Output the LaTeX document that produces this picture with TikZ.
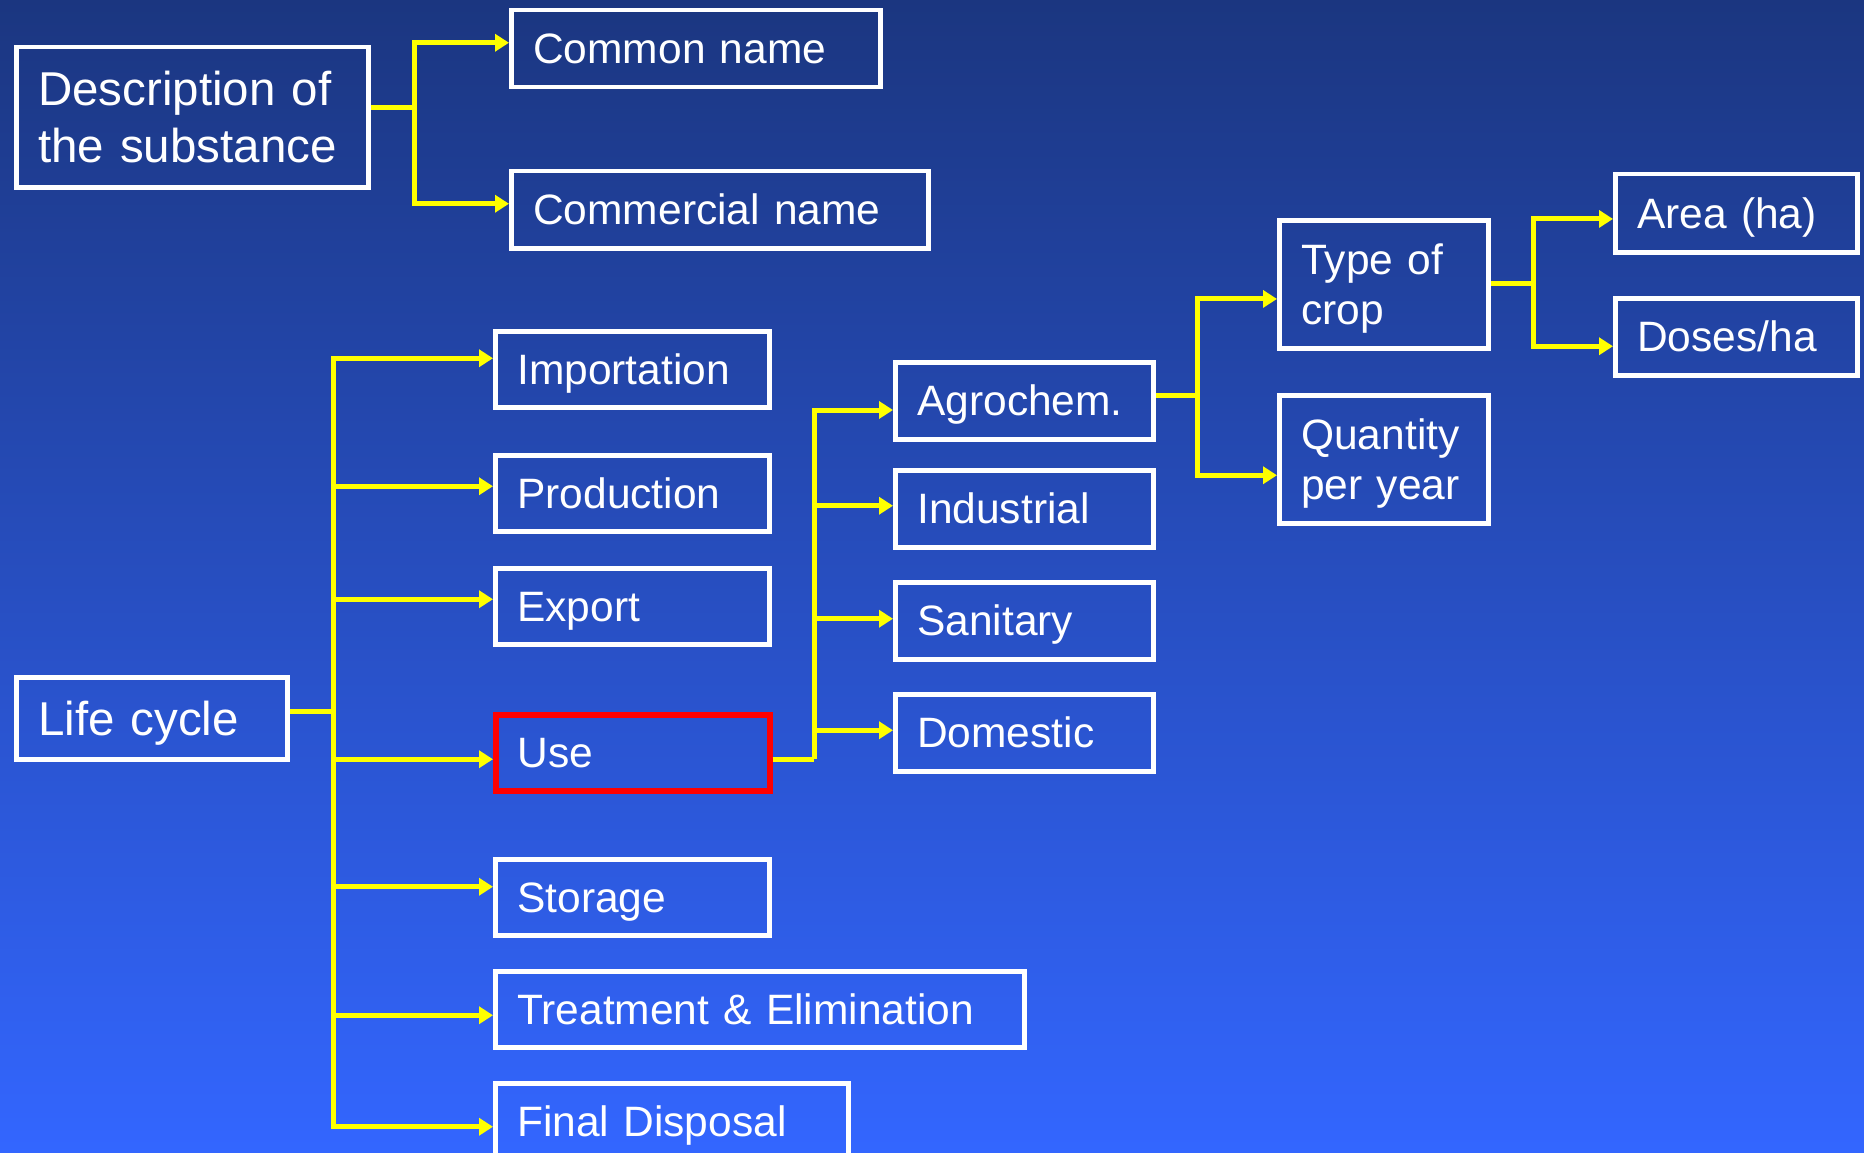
\documentclass[tikz,border=0pt]{standalone}
\usepackage{fontspec}
\setmainfont{Liberation Sans}
\usetikzlibrary{arrows.meta}
\definecolor{bgtop}{RGB}{27,54,128}
\definecolor{bgmid}{RGB}{42,85,208}
\definecolor{bgbot}{RGB}{51,102,255}
\definecolor{conny}{RGB}{255,255,0}
\definecolor{usered}{RGB}{255,0,0}
\tikzset{
  box/.style={draw=white, line width=4.5pt, anchor=north west, inner xsep=22pt, inner ysep=0pt,
    align=left, text=white, font=\fontsize{42.5}{50}\selectfont, text height=30.4pt, text depth=0pt},
  bigbox/.style={box, font=\fontsize{47.5}{57}\selectfont, text height=34pt},
  twoline/.style={text depth=50pt},
  redbox/.style={draw=usered, line width=5.5pt},
  conn/.style={draw=conny, line width=5pt},
  arr/.style={conn, -{Triangle[length=14pt,width=17pt]}},
}
\begin{document}
\begin{tikzpicture}[x=1pt,y=-1pt]
\useasboundingbox (0,0) rectangle (1864,1153);
\clip (0,0) rectangle (1864,1153);
\shade[top color=bgtop, middle color=bgmid, bottom color=bgbot] (0,0) rectangle (1864,1153);

% boxes
\node[bigbox, twoline, text depth=57pt, minimum width=352pt, minimum height=140pt, text width=308pt] (desc) at (14,45) {Description of\\the substance};
\node[box, minimum width=369pt, minimum height=77pt, text width=325pt] (common) at (509,8) {Common name};
\node[box, minimum width=417pt, minimum height=77pt, text width=373pt] (commercial) at (509,169) {Commercial name};

\node[bigbox, minimum width=271pt, minimum height=82pt, text width=227pt] (life) at (14,675) {Life cycle};
\node[box, minimum width=274pt, minimum height=76pt, text width=230pt] (imp) at (493,329) {Importation};
\node[box, minimum width=274pt, minimum height=76pt, text width=230pt] (prod) at (493,453) {Production};
\node[box, minimum width=274pt, minimum height=76pt, text width=230pt] (exp) at (493,566) {Export};
\node[box, redbox, minimum width=274pt, minimum height=76pt, text width=230pt] (use) at (493,712) {Use};
\node[box, minimum width=274pt, minimum height=76pt, text width=230pt] (stor) at (493,857) {Storage};
\node[box, minimum width=529pt, minimum height=76pt, text width=485pt] (treat) at (493,969) {Treatment \& Elimination};
\node[box, minimum width=353pt, minimum height=76pt, text width=309pt] (final) at (493,1081) {Final Disposal};

\node[box, minimum width=258pt, minimum height=77pt, text width=214pt] (agro) at (893,360) {Agrochem.};
\node[box, minimum width=258pt, minimum height=77pt, text width=214pt] (ind) at (893,468) {Industrial};
\node[box, minimum width=258pt, minimum height=77pt, text width=214pt] (san) at (893,580) {Sanitary};
\node[box, minimum width=258pt, minimum height=77pt, text width=214pt] (dom) at (893,692) {Domestic};

\node[box, twoline, minimum width=209pt, minimum height=128pt, text width=165pt] (type) at (1277,218) {Type of\\crop};
\node[box, twoline, minimum width=209pt, minimum height=128pt, text width=165pt] (qty) at (1277,393) {Quantity\\per year};

\node[box, minimum width=242pt, minimum height=78pt, text width=198pt] (area) at (1613,172) {Area (ha)};
\node[box, minimum width=242pt, minimum height=77pt, text width=198pt] (doses) at (1613,296) {Doses/ha};

% bus x positions
\coordinate (xb1) at (414,0);
\coordinate (xb2) at (333,0);
\coordinate (xb3) at (814,0);
\coordinate (xb4) at (1197,0);
\coordinate (xb5) at (1533,0);

% description
\draw[conn] ([yshift=10pt]desc.east) -- ([yshift=10pt]desc.east -| xb1);
\draw[arr] ([yshift=10pt]desc.east -| xb1) |- ([yshift=6pt]common.west);
\draw[arr] ([yshift=10pt]desc.east -| xb1) |- ([yshift=6pt]commercial.west);

% life cycle
\draw[conn] ([yshift=7pt]life.east) -- ([yshift=7pt]life.east -| xb2);
\draw[arr] ([yshift=7pt]life.east -| xb2) |- ([yshift=11pt]imp.west);
\draw[arr] ([yshift=7pt]life.east -| xb2) |- ([yshift=7pt]prod.west);
\draw[arr] ([yshift=7pt]life.east -| xb2) |- ([yshift=7pt]exp.west);
\draw[arr] ([yshift=7pt]life.east -| xb2) |- ([yshift=-6.5pt]use.west);
\draw[arr] ([yshift=7pt]life.east -| xb2) |- ([yshift=10.5pt]stor.west);
\draw[arr] ([yshift=7pt]life.east -| xb2) |- ([yshift=-6pt]treat.west);
\draw[arr] ([yshift=7pt]life.east -| xb2) |- ([yshift=-5.5pt]final.west);

% use
\draw[conn] ([yshift=-6.5pt]use.east) -- ([yshift=-6.5pt]use.east -| xb3);
\draw[arr] ([yshift=-6.5pt]use.east -| xb3) |- ([yshift=-9.25pt]agro.west);
\draw[arr] ([yshift=-6.5pt]use.east -| xb3) |- ([yshift=3pt]ind.west);
\draw[arr] ([yshift=-6.5pt]use.east -| xb3) |- ([yshift=2pt]san.west);
\draw[arr] ([yshift=-6.5pt]use.east -| xb3) |- ([yshift=2.5pt]dom.west);

% agrochem
\draw[conn] ([yshift=5.75pt]agro.east) -- ([yshift=5.75pt]agro.east -| xb4);
\draw[arr] ([yshift=5.75pt]agro.east -| xb4) |- ([yshift=-14.7pt]type.west);
\draw[arr] ([yshift=5.75pt]agro.east -| xb4) |- ([yshift=-16pt]qty.west);

% type of crop
\draw[conn] ([yshift=1pt]type.east) -- ([yshift=1pt]type.east -| xb5);
\draw[arr] ([yshift=1pt]type.east -| xb5) |- ([yshift=-5.7pt]area.west);
\draw[arr] ([yshift=1pt]type.east -| xb5) |- ([yshift=-9.5pt]doses.west);
\end{tikzpicture}
\end{document}
